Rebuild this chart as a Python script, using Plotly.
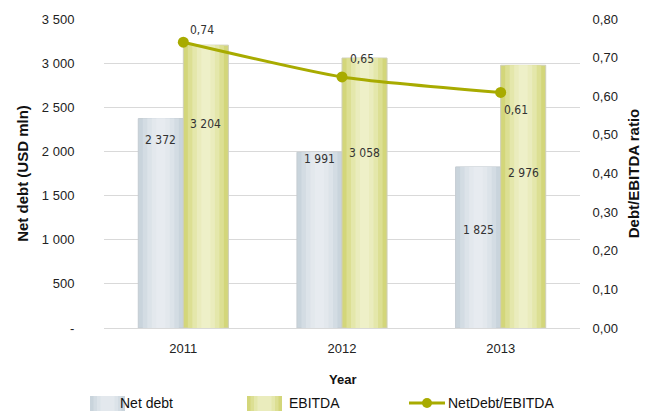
import plotly.graph_objects as go

years = ["2011", "2012", "2013"]
net_debt = [2372, 1991, 1825]
ebitda = [3204, 3058, 2976]
ratio = [0.74, 0.65, 0.61]

left_ticks = [0, 500, 1000, 1500, 2000, 2500, 3000, 3500]
right_ticks = [0, 0.1, 0.2, 0.3, 0.4, 0.5, 0.6, 0.7, 0.8]

series_names = ["Net debt", "EBITDA", "NetDebt/EBITDA"]

# styling offsets for value labels (pixels)
nd_label_shift = [-21, -7, -63]
eb_label_shift = [-79, -95, -108]
ratio_label_dx = [19, 20, 15]
ratio_label_dy = [12, 18, -18]

BW = 0.284  # bar width in category units
LINE_COL = "#a8ab00"

# gradient layers: (fraction of width, colour)
nd_layers = [(1.0, "#c9d4dc"), (0.8, "#d3dce3"), (0.6, "#dce3e9"), (0.4, "#e3e8ed"), (0.2, "#e7ebf0")]
eb_layers = [(1.0, "#d3d67a"), (0.8, "#dcdf93"), (0.6, "#e4e7ab"), (0.4, "#eaecbd"), (0.2, "#eef0c8")]

# plot area geometry (pixels)
L, R, T, B, W, H = 104, 76, 19, 84, 656, 412
PW, PH = W - L - R, H - T - B


def px(x):
    return (x - L) / PW


def py(y):
    return (H - B - y) / PH


fig = go.Figure()


def fmt(v):
    return f"{v:,}".replace(",", " ")


for i, (frac, col) in enumerate(nd_layers):
    w = BW * frac
    fig.add_trace(go.Bar(
        x=years, y=net_debt, name=series_names[0],
        width=[w] * 3, offset=-BW / 2 - w / 2,
        marker=dict(color=col, line=dict(width=1 if i == 0 else 0, color="#c4ccd2")),
    ))
for i, (frac, col) in enumerate(eb_layers):
    w = BW * frac
    fig.add_trace(go.Bar(
        x=years, y=ebitda, name=series_names[1],
        width=[w] * 3, offset=BW / 2 - w / 2,
        marker=dict(color=col, line=dict(width=1 if i == 0 else 0, color="#cfcfb8")),
    ))

fig.add_trace(go.Scatter(
    x=years, y=ratio, name=series_names[2], yaxis="y2",
    mode="lines+markers", line=dict(color=LINE_COL, width=3, shape="spline", smoothing=0.6),
    marker=dict(color=LINE_COL, size=11),
))

label_font = dict(family="DejaVu Sans Condensed, Liberation Sans Narrow, Arial Narrow, Liberation Sans", size=12, color="#333333")
ann = []
for k, y in enumerate(years):
    ann.append(dict(x=k - BW / 2, y=net_debt[k], xref="x", yref="y", text=fmt(net_debt[k]),
                    showarrow=False, yshift=nd_label_shift[k], font=label_font))
    ann.append(dict(x=k + BW / 2, y=ebitda[k], xref="x", yref="y", text=fmt(ebitda[k]),
                    showarrow=False, yshift=eb_label_shift[k], font=label_font))
    ann.append(dict(x=k, y=ratio[k], xref="x", yref="y2", text=f"{ratio[k]:.2f}".replace(".", ","),
                    showarrow=False, xshift=ratio_label_dx[k], yshift=ratio_label_dy[k], font=label_font))

# x-axis title
ann.append(dict(x=0.5, y=py(379), xref="paper", yref="paper", text="Year", showarrow=False,
                xanchor="center", yanchor="middle",
                font=dict(family="Liberation Sans, Arial", size=13, color="#111111", weight="bold")))

# hand-drawn legend
leg_font = dict(family="Liberation Sans, Arial", size=14, color="#111111")
LEG_Y = 403
leg_text_x = [118, 287, 446]
for name, tx in zip(series_names, leg_text_x):
    ann.append(dict(x=px(tx), y=py(LEG_Y), xref="paper", yref="paper", text=name, showarrow=False,
                    xanchor="left", yanchor="middle", font=leg_font))

shapes = []
for x0, layers in ((90, nd_layers), (247, eb_layers)):
    for frac, col in layers[:4]:
        half = 17.5 * frac
        c = x0 + 17.5
        shapes.append(dict(type="rect", xref="paper", yref="paper",
                           x0=px(c - half), x1=px(c + half), y0=py(411), y1=py(396),
                           fillcolor=col, line=dict(width=0)))
shapes.append(dict(type="line", xref="paper", yref="paper", x0=px(409), x1=px(445),
                   y0=py(LEG_Y), y1=py(LEG_Y), line=dict(color=LINE_COL, width=3)))
shapes.append(dict(type="circle", xref="paper", yref="paper", x0=px(422), x1=px(432),
                   y0=py(LEG_Y + 5), y1=py(LEG_Y - 5), fillcolor=LINE_COL, line=dict(width=0)))

tick_font = dict(family="Liberation Sans, Arial", size=13, color="#222222")
title_font = dict(family="Liberation Sans, Arial", size=15, color="#111111", weight="bold")

fig.update_layout(
    width=W, height=H,
    margin=dict(l=L, r=R, t=T, b=B),
    paper_bgcolor="white", plot_bgcolor="white",
    barmode="overlay",
    separators=", ",
    annotations=ann,
    shapes=shapes,
    showlegend=False,
    xaxis=dict(type="category", range=[-0.5, 2.5], showgrid=False, showline=True, automargin=False,
               linecolor="#d9d9d9", linewidth=1, ticks="outside", ticklen=8, tickcolor="rgba(0,0,0,0)",
               tickfont=tick_font),
    yaxis=dict(range=[0, 3500], tickvals=left_ticks, automargin=False,
               ticktext=["-" if v == 0 else fmt(v) for v in left_ticks],
               showgrid=True, gridcolor="#d9d9d9", gridwidth=1, zeroline=False,
               ticks="outside", ticklen=26, tickcolor="rgba(0,0,0,0)", tickfont=tick_font,
               title=dict(text="Net debt (USD mln)", font=title_font, standoff=9)),
    yaxis2=dict(range=[0, 0.8], tickvals=right_ticks, tickformat=".2f", overlaying="y", side="right",
                automargin=False,
                showgrid=False, zeroline=False, ticks="outside", ticklen=9, tickcolor="rgba(0,0,0,0)",
                tickfont=tick_font,
                title=dict(text="Debt/EBITDA ratio", font=title_font, standoff=11)),
)

fig.write_html("out.html", config={"displayModeBar": False},
               post_script="document.body.style.margin='0';")
